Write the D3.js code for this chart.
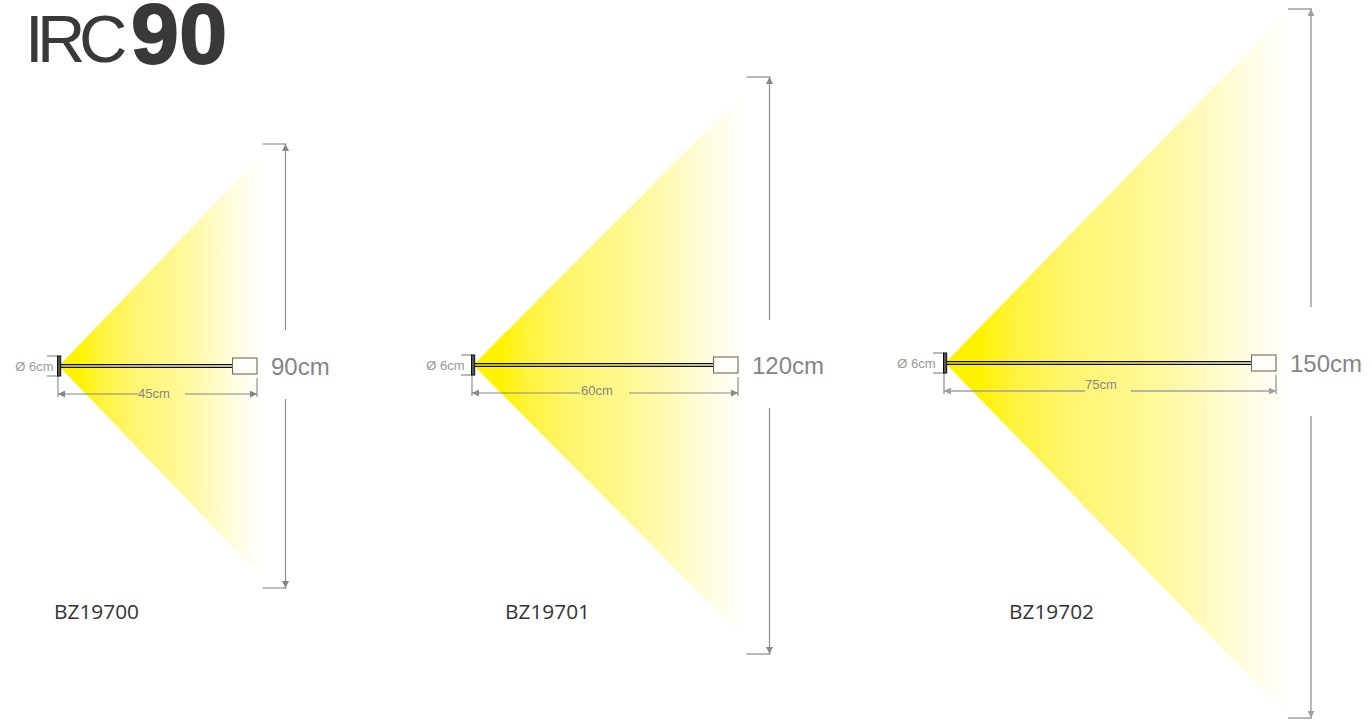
<!DOCTYPE html>
<html>
<head>
<meta charset="utf-8">
<title>IRC90</title>
<script src="https://cdn.jsdelivr.net/npm/d3@7"></script>
<style>
    html, body { margin: 0; padding: 0; background: #fff; overflow: hidden; }
    svg { display: block; }
    text { font-family: "Liberation Sans", Arial, sans-serif; }
</style>
</head>
<body>
<svg id="viz" width="1370" height="724"></svg>
<script>
// --- Data ---
const models = ["BZ19700", "BZ19701", "BZ19702"];
const reachCm = [45, 60, 75];
const spreadCm = [90, 120, 150];
const diameterLabel = "Ø 6cm";

// --- Layout, one entry per lamp ---
const LAYOUT = [
    { x0: 59, x1: 257, top: 144, bottom: 588, axisY: 366, spreadX: 285.5, gap: [330, 399], reachY: 394, reachGap: [138, 185], reachTextX: 154, reachTextY: 398, spreadTextX: 271, modelX: 54, coneEnd: 272, fadeEnd: 262, diaTextX: 53.5, dimWidth: 1.1, dimColor: "#858585" },
    { x0: 473, x1: 738, top: 77, bottom: 654, axisY: 365, spreadX: 769.5, gap: [320, 408], reachY: 393, reachGap: [580, 629], reachTextX: 597, reachTextY: 395, spreadTextX: 752, modelX: 505, coneEnd: 760, fadeEnd: 745, diaTextX: 464.5, dimWidth: 1.2, dimColor: "#8a8a8a" },
    { x0: 945, x1: 1276, top: 9, bottom: 718, axisY: 363, spreadX: 1311, gap: [307, 416], reachY: 391, reachGap: [1085, 1131], reachTextX: 1101, reachTextY: 389, spreadTextX: 1290, modelX: 1009, coneEnd: 1290, fadeEnd: 1290, diaTextX: 935.5, dimWidth: 1.5, dimColor: "#a0a0a0" }
];

const COLORS = { text: "#858585", title: "#3a3839", lamp: "#0d0d0d", box: "#6e6a5e", model: "#333" };
const BEAM_STOPS = [[0, "#fff200"], [0.1, "#fff200"], [0.2, "#fff33c"], [0.36, "#fff56e"], [0.56, "#fff890"], [0.7, "#fffab0"], [0.87, "#fffde0"], [1, "#ffffff"]];

const svg = d3.select("#viz");
const defs = svg.append("defs");

function arrowMarker(id, color) {
    defs.append("marker")
        .attr("id", id)
        .attr("viewBox", "0 -5 10 10")
        .attr("refX", 10)
        .attr("refY", 0)
        .attr("orient", "auto-start-reverse")
        .attr("markerUnits", "userSpaceOnUse")
        .attr("markerWidth", 8)
        .attr("markerHeight", 7)
        .append("path")
        .attr("d", "M0,-5L10,0L0,5Z")
        .attr("fill", color);
}

// --- Title ---
svg.append("text")
    .attr("x", 25).attr("y", 62)
    .attr("font-size", 67)
    .attr("letter-spacing", -6.5)
    .attr("fill", COLORS.title)
    .text("IRC");
svg.append("text")
    .attr("x", 131).attr("y", 62.5)
    .attr("font-size", 86)
    .attr("font-weight", "bold")
    .attr("letter-spacing", 0.5)
    .attr("stroke", COLORS.title)
    .attr("stroke-width", 1.8)
    .attr("fill", COLORS.title)
    .text("90");

// --- One drawing per lamp ---
models.forEach((model, i) => {
    const lay = LAYOUT[i];
    const g = svg.append("g");

    const x = d3.scaleLinear().domain([0, reachCm[i]]).range([lay.x0, lay.x1]);
    const y = d3.scaleLinear().domain([spreadCm[i] / 2, -spreadCm[i] / 2]).range([lay.top, lay.bottom]);

    // light cone: runs out to the spread limits, fading to white
    const gradId = "beam" + i;
    const grad = defs.append("linearGradient")
        .attr("id", gradId)
        .attr("gradientUnits", "userSpaceOnUse")
        .attr("x1", lay.x0).attr("x2", lay.fadeEnd)
        .attr("y1", 0).attr("y2", 0);
    BEAM_STOPS.forEach(s => {
        grad.append("stop").attr("offset", s[0]).attr("stop-color", s[1]);
    });
    g.append("path")
        .attr("d", d3.line()([[lay.x0, lay.axisY], [lay.coneEnd, y(spreadCm[i] / 2)], [lay.coneEnd, y(-spreadCm[i] / 2)]]) + "Z")
        .attr("fill", `url(#${gradId})`);

    // spread dimension
    const arrowId = "arrow" + i;
    arrowMarker(arrowId, lay.dimColor);
    const dimLine = (x1, y1, x2, y2) => g.append("line")
        .attr("x1", x1).attr("y1", y1).attr("x2", x2).attr("y2", y2)
        .attr("stroke", lay.dimColor).attr("stroke-width", lay.dimWidth);

    const sx = lay.spreadX;
    dimLine(sx, lay.gap[0], sx, y(spreadCm[i] / 2)).attr("marker-end", `url(#${arrowId})`);
    dimLine(sx, lay.gap[1], sx, y(-spreadCm[i] / 2)).attr("marker-end", `url(#${arrowId})`);
    dimLine(sx - 23, y(spreadCm[i] / 2), sx + 1, y(spreadCm[i] / 2));
    dimLine(sx - 23, y(-spreadCm[i] / 2), sx + 1, y(-spreadCm[i] / 2));

    g.append("text")
        .attr("x", lay.spreadTextX).attr("y", lay.axisY + 9)
        .attr("font-size", 24)
        .attr("fill", COLORS.text)
        .text(spreadCm[i] + "cm");

    // reach dimension
    dimLine(x(0) - 1, lay.axisY + 4, x(0) - 1, lay.reachY + 3);
    dimLine(x(reachCm[i]), lay.axisY + 12, x(reachCm[i]), lay.reachY + 3);
    dimLine(lay.reachGap[0], lay.reachY, x(0) - 1, lay.reachY).attr("marker-end", `url(#${arrowId})`);
    dimLine(lay.reachGap[1], lay.reachY, x(reachCm[i]), lay.reachY).attr("marker-end", `url(#${arrowId})`);

    g.append("text")
        .attr("x", lay.reachTextX).attr("y", lay.reachTextY)
        .attr("text-anchor", "middle")
        .attr("font-size", 13)
        .attr("fill", COLORS.text)
        .text(reachCm[i] + "cm");

    // diameter dimension
    dimLine(x(0) - 12, lay.axisY - 10, x(0) - 1, lay.axisY - 10);
    dimLine(x(0) - 12, lay.axisY + 10, x(0) - 1, lay.axisY + 10);
    g.append("text")
        .attr("x", lay.diaTextX).attr("y", lay.axisY + 5)
        .attr("text-anchor", "end")
        .attr("font-size", 13)
        .attr("fill", "#9a9a9a")
        .text(diameterLabel);

    // lamp: base plate, double rod, head
    const headStart = x(reachCm[i]) - 24.5;
    g.append("rect")
        .attr("x", x(0) - 1.5).attr("y", lay.axisY - 10)
        .attr("width", 3.2).attr("height", 20)
        .attr("fill", "#555").attr("stroke", COLORS.lamp).attr("stroke-width", 1);
    [-1.4, 1.4].forEach(off => {
        g.append("line")
            .attr("x1", x(0) + 2).attr("x2", headStart)
            .attr("y1", lay.axisY + off).attr("y2", lay.axisY + off)
            .attr("stroke", COLORS.lamp).attr("stroke-width", 1.1);
    });
    g.append("rect")
        .attr("x", headStart).attr("y", lay.axisY - 8)
        .attr("width", 24.5).attr("height", 16)
        .attr("fill", "#fffef8").attr("stroke", COLORS.box).attr("stroke-width", 1.1);

    // model code
    g.append("text")
        .attr("x", lay.modelX).attr("y", 619)
        .style("font-family", "'Open Sans', sans-serif")
        .attr("font-size", 20)
        .attr("textLength", 85)
        .attr("lengthAdjust", "spacingAndGlyphs")
        .attr("fill", COLORS.model)
        .text(model);
});
</script>
</body>
</html>
